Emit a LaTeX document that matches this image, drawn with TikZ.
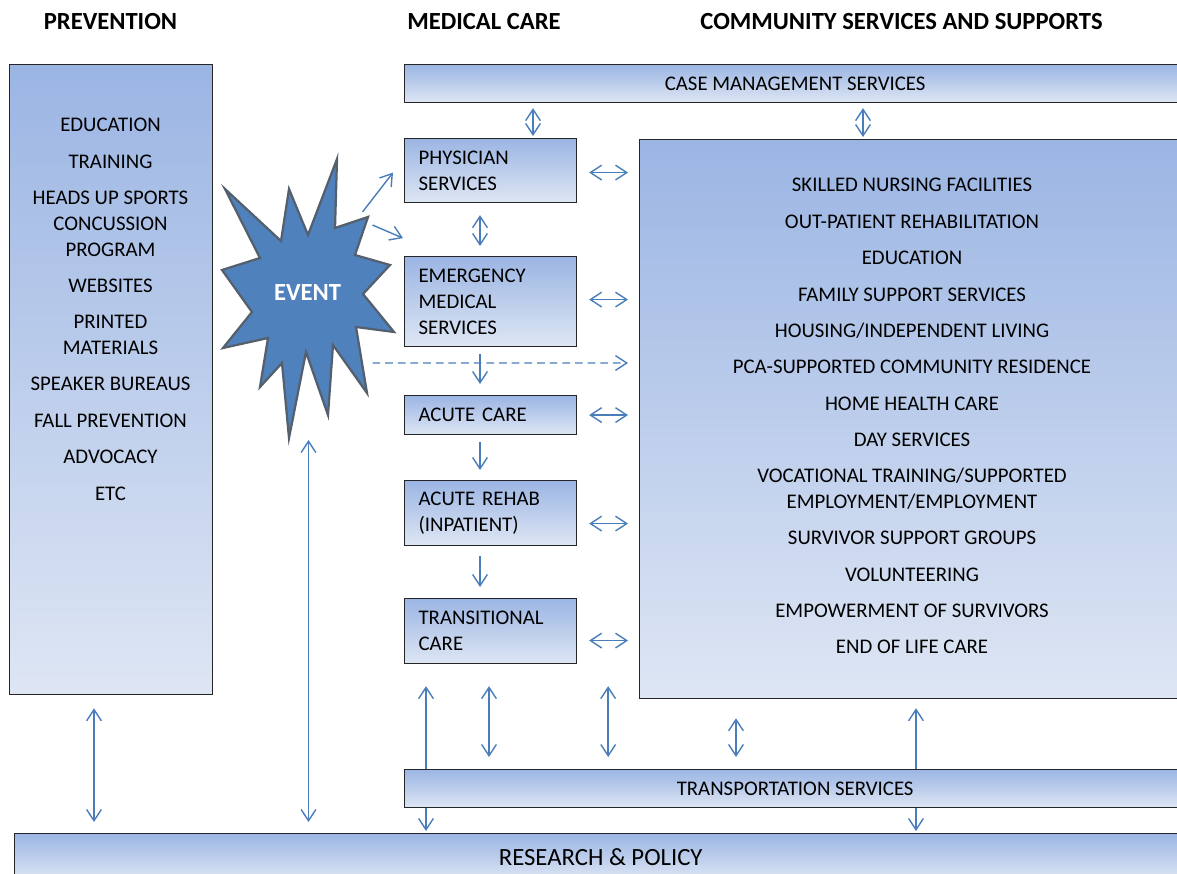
\documentclass[tikz,border=0pt]{standalone}
\usepackage{fontspec}
\setmainfont{Carlito}
\usetikzlibrary{arrows.meta,calc,positioning}
\newlength{\medboxwidth}
\newlength{\medtextwidth}
\setlength{\medboxwidth}{4.3cm}
\setlength{\medtextwidth}{3.6cm}
\definecolor{boxtop}{RGB}{155,181,227}
\definecolor{boxbottom}{RGB}{222,230,244}
\definecolor{arrowblue}{RGB}{74,126,187}
\definecolor{eventfill}{RGB}{79,129,189}
\definecolor{eventline}{RGB}{84,96,110}
\newcommand{\listfont}{\fontsize{14.8}{18.5}\selectfont}
\newcommand{\headfont}{\fontsize{17.5}{21}\selectfont\bfseries}
\tikzstyle{panel} = [draw=black!85, line width=0.8pt, top color=boxtop, bottom color=boxbottom, inner sep=0]
\tikzstyle{medbox} = [panel, text width=\medtextwidth, inner xsep=0.35cm, align=left, font=\listfont, anchor=north west]
\tikzstyle{bar} = [panel, font=\listfont, anchor=north west]
\tikzstyle{link} = [draw=arrowblue, line width=1pt]
\tikzstyle{twoway} = [link, {Straight Barb[length=8pt,width=10.5pt]}-{Straight Barb[length=8pt,width=10.5pt]}]
\tikzstyle{oneway} = [link, -{Straight Barb[length=8pt,width=10.5pt]}]
\begin{document}
\begin{tikzpicture}[x=0.025cm, y=-0.025cm]
	\clip (0,0) rectangle (1177,874);
	
	% column headings
	\node[font=\headfont, anchor=base] (hprev) at (110.5,30) {PREVENTION};
	\node[font=\headfont, anchor=base] (hmed) at (484,30) {MEDICAL CARE};
	\node[font=\headfont, anchor=base] (hcomm) at (901.5,30) {COMMUNITY SERVICES AND SUPPORTS};
	
	% prevention
	\node[panel, minimum width=5.075cm, minimum height=15.75cm, anchor=north west] (prev) at (9,64) {};
	\foreach \y/\txt [count=\i] in {132/EDUCATION, 168/TRAINING, 204/HEADS UP SPORTS, 230/CONCUSSION, 256/PROGRAM, 292/WEBSITES, 328/PRINTED, 354/MATERIALS, 390/SPEAKER BUREAUS, 427/FALL PREVENTION, 463/ADVOCACY, 500/ETC}
		\node[font=\listfont, anchor=base] (prevline\i) at (110.5,\y) {\txt};
	
	% medical care
	\node[bar, minimum width=19.525cm, minimum height=0.95cm] (casemgmt) at (404,64) {CASE MANAGEMENT SERVICES};
	\node[medbox, minimum height=1.6cm] (phys) at (404,138) {PHYSICIAN\\SERVICES};
	\node[medbox, minimum height=2.25cm] (emerg) at (404,256) {EMERGENCY\\MEDICAL\\SERVICES};
	\node[medbox, minimum height=0.975cm] (acute) at (404,395) {ACUTE CARE};
	\node[medbox, minimum height=1.625cm] (rehab) at (404,480) {ACUTE REHAB\\(INPATIENT)};
	\node[medbox, minimum height=1.625cm] (transit) at (404,598) {TRANSITIONAL\\CARE};
	
	% community services
	\node[panel, minimum width=13.65cm, minimum height=13.975cm, anchor=north west] (comm) at (639,139) {};
	\foreach \y/\txt [count=\i] in {191/SKILLED NURSING FACILITIES, 228/OUT-PATIENT REHABILITATION, 264/EDUCATION, 301/FAMILY SUPPORT SERVICES, 337/{HOUSING/INDEPENDENT LIVING}, 373/PCA-SUPPORTED COMMUNITY RESIDENCE, 410/HOME HEALTH CARE, 446/DAY SERVICES, 482/{VOCATIONAL TRAINING/SUPPORTED}, 508/{EMPLOYMENT/EMPLOYMENT}, 544/SURVIVOR SUPPORT GROUPS, 581/VOLUNTEERING, 617/EMPOWERMENT OF SURVIVORS, 653/END OF LIFE CARE}
		\node[font=\listfont, anchor=base] (commline\i) at (912,\y) {\txt};
	
	\node[bar, minimum width=29.3cm, minimum height=1.175cm, font=\fontsize{17.6}{21}\selectfont] (research) at (14,833) {RESEARCH \& POLICY};
	
	% event
	\filldraw[fill=eventfill, draw=eventline, line width=1.6pt]
		(225,189) -- (281,241) -- (289,189) -- (308,235) -- (337,159) -- (335,228) -- (368,217) -- (355,255) -- (390,265) -- (363,294) -- (394,332) -- (356,327) -- (367,393) -- (333,345) -- (328,415) -- (306,352) -- (289,438) -- (282,363) -- (260,387) -- (268,338) -- (223,348) -- (252,312) -- (222,270) -- (260,258) -- cycle;
	\node[font=\headfont, text=white, anchor=base] (event) at (307.5,300) {EVENT};
	
	% links that pass under transportation
	\draw[twoway] ($(transit.south west)+(22,22)$) -- ($(transit.south west |- research.north)+(22,-2)$);
	\draw[twoway] ($(comm.south west)+(277,9)$) -- ($(comm.south west |- research.north)+(277,-2)$);
	
	\node[bar, minimum width=19.525cm, minimum height=0.95cm] (transport) at (404,769) {TRANSPORTATION SERVICES};
	
	% event links
	\draw[oneway] ($(event)+(55,-80)$) -- ($(phys.west)+(-11,2)$);
	\draw[oneway] ($(event)+(65,-67)$) -- ($(phys.south west)+(-1,35)$);
	\draw[oneway, dash pattern=on 5.5pt off 3.5pt] ($(event)+(65,71)$) -- ($(comm.north west)+(-11,224)$);
	
	% medical chain
	\draw[twoway] ($(casemgmt.south west)+(129,5)$) -- ($(phys.north west)+(129,-2)$);
	\draw[twoway] ($(casemgmt.south west)+(459,5)$) -- ($(comm.north west)+(224,-2)$);
	\draw[twoway] ($(phys.south west)+(76,12)$) -- ($(emerg.north west)+(76,-10)$);
	\draw[oneway] ($(emerg.south west)+(76,7)$) -- ($(acute.north west)+(76,-11)$);
	\draw[oneway] ($(acute.south west)+(76,7)$) -- ($(rehab.north west)+(76,-10)$);
	\draw[oneway] ($(rehab.south west)+(76,10)$) -- ($(transit.north west)+(76,-11)$);
	
	% to community services
	\draw[twoway] ($(phys.east)+(12,2)$) -- ($(phys.east -| comm.west)+(-11,2)$);
	\draw[twoway] ($(emerg.east)+(12,-2)$) -- ($(emerg.east -| comm.west)+(-11,-2)$);
	\draw[twoway] ($(acute.east)+(12,0)$) -- ($(acute.east -| comm.west)+(-11,0)$);
	\draw[twoway] ($(rehab.east)+(12,10.5)$) -- ($(rehab.east -| comm.west)+(-11,10.5)$);
	\draw[twoway] ($(transit.east)+(12,9.5)$) -- ($(transit.east -| comm.west)+(-11,9.5)$);
	
	% lower links
	\draw[twoway] ($(prev.south west)+(85,13)$) -- ($(prev.south west |- research.north)+(85,-11)$);
	\draw[twoway] ($(event)+(1,148)$) -- ($(event |- research.north)+(1,-11)$);
	\draw[twoway] ($(transit.south west)+(85,22)$) -- ($(transit.south west |- transport.north)+(85,-12)$);
	\draw[twoway] ($(transit.south east)+(31,22)$) -- ($(transit.south east |- transport.north)+(31,-12)$);
	\draw[twoway] ($(comm.south west)+(97,19)$) -- ($(comm.south west |- transport.north)+(97,-12)$);
	
\end{tikzpicture}
\end{document}
